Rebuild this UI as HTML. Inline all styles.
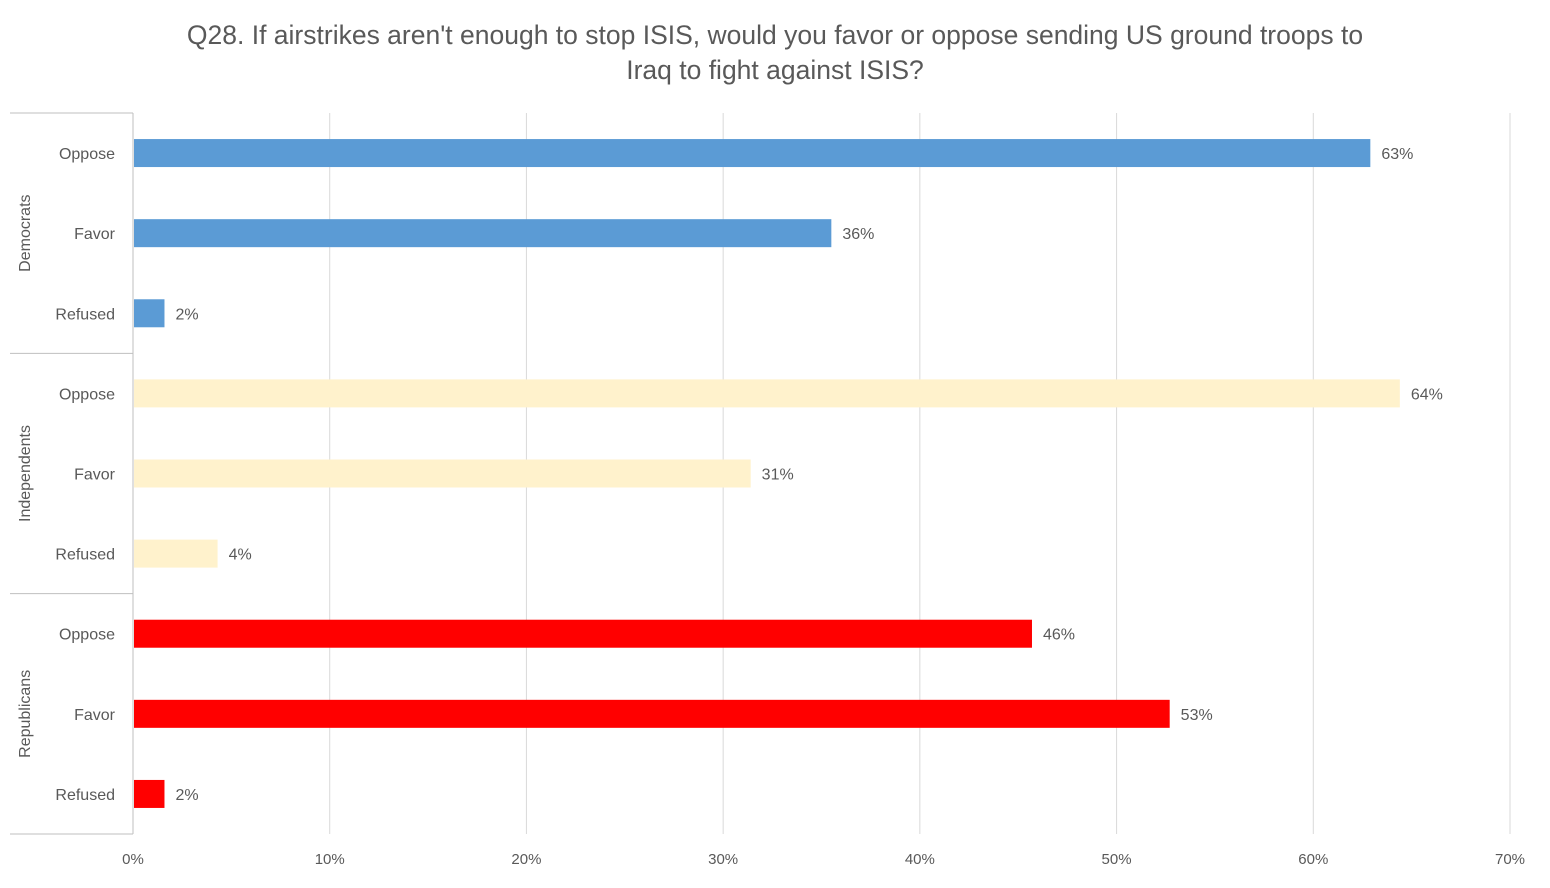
<!DOCTYPE html>
<html><head><meta charset="utf-8"><style>
body{margin:0;background:#fff;font-family:"Liberation Sans",Calibri,sans-serif;}
svg text{font-family:"Liberation Sans",sans-serif;fill:#595959;}
</style></head><body>
<svg id="c" width="1550" height="883" xmlns="http://www.w3.org/2000/svg">
<text x="775" y="44" text-anchor="middle" font-size="26.5">Q28. If airstrikes aren't enough to stop ISIS, would you favor or oppose sending US ground troops to</text>
<text x="775" y="79" text-anchor="middle" font-size="26.5">Iraq to fight against ISIS?</text>
<g id="g"></g>
</svg>
<script>
const groups=["Democrats","Independents","Republicans"];
const cats=["Oppose","Favor","Refused"];
const values=[62.9,35.5,1.6,64.4,31.4,4.3,45.7,52.7,1.6];
const labels=["63%","36%","2%","64%","31%","4%","46%","53%","2%"];
const ticks=[0,10,20,30,40,50,60,70];
const colors=["#5B9BD5","#FFF2CC","#FF0000"];
const X0=133,X1=1510,XMAX=70,TOP=113,BOT=834;
const NS="http://www.w3.org/2000/svg";
const g=document.getElementById('g');
const x=v=>X0+(X1-X0)*v/XMAX;
const rowH=(BOT-TOP)/values.length;
function el(t,a){const e=document.createElementNS(NS,t);for(const k in a)e.setAttribute(k,a[k]);g.appendChild(e);return e;}
ticks.forEach(t=>{
 const l=el('line',{x1:x(t),x2:x(t),y1:TOP,y2:BOT,stroke:t===0?'#bfbfbf':'#d9d9d9','stroke-width':1});
 
 
 const tx=el('text',{x:x(t),y:864,'text-anchor':'middle','font-size':15});
 tx.textContent=t+'%';
 
 
});
for(let i=0;i<=groups.length;i++){
 const y=TOP+i*3*rowH;
 const l=el('line',{x1:10,x2:X0,y1:y,y2:y,stroke:'#bfbfbf','stroke-width':1});
 
 
}
groups.forEach((gr,gi)=>{
 const cy=TOP+(gi*3+1.5)*rowH;
 const t=el('text',{x:0,y:0,'text-anchor':'middle','font-size':16,transform:`translate(30,${cy}) rotate(-90)`});
 t.textContent=gr;
 
 
});
values.forEach((v,i)=>{
 const cy=TOP+(i+0.5)*rowH;
 const gi=Math.floor(i/3);
 const r=el('rect',{x:X0+1,y:cy-14,width:x(v)-X0-1,height:28,fill:colors[gi]});
 
 
 const c=el('text',{x:115,y:cy+6,'text-anchor':'end','font-size':16});
 c.textContent=cats[i%3];
 
 
 const vl=el('text',{x:x(v)+11,y:cy+6,'font-size':16});
 vl.textContent=labels[i];
 
 
});
</script>
</body></html>
